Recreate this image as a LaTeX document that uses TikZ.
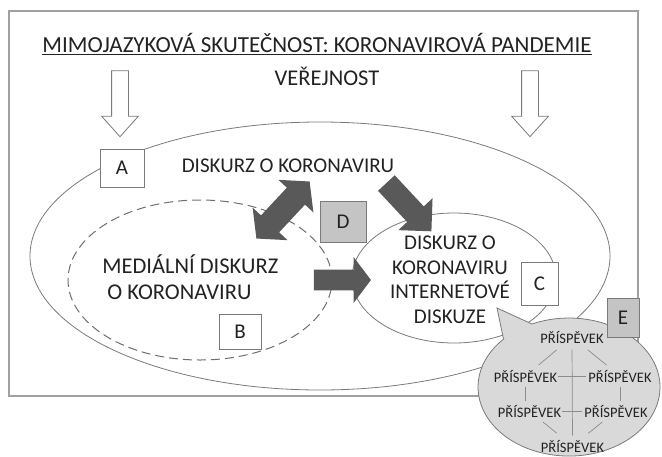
\documentclass[tikz,border=0pt]{standalone}
\usepackage{fontspec}
\setmainfont{Carlito}
\usetikzlibrary{positioning, shapes.geometric, shapes.arrows}

\definecolor{ink}{HTML}{222222}
\definecolor{rim}{HTML}{7A7A7A}
\definecolor{frame}{HTML}{A0A0A0}
\definecolor{heavy}{HTML}{595959}
\definecolor{shade}{HTML}{C4C4C4}
\definecolor{bubble}{HTML}{D9D9D9}
\definecolor{thread}{HTML}{8C8C8C}

\begin{document}
\begin{tikzpicture}[x=1pt, y=-1pt, line width=0.8pt,
	every node/.style={text=ink, inner sep=0pt, font=\fontsize{21}{24.7}\selectfont},
	big/.style={font=\fontsize{22.5}{26}\selectfont},
	field/.style={ellipse, draw=rim},
	tag/.style={draw=rim, fill=white},
	greytag/.style={tag, fill=shade},
	hollow/.style={single arrow, draw=rim, fill=white, minimum height=66pt, inner ysep=8pt,
		single arrow head extend=10pt, single arrow tip angle=84, rotate=-90},
	fat/.style={single arrow, fill=heavy},
	post/.style={anchor=base, font=\fontsize{14.5}{16}\selectfont},
	link/.style={draw=thread, line width=0.7pt}]
			\useasboundingbox (0,0) rectangle (662,456);
			\draw[frame, line width=1.4pt] (9,11) rectangle (638,396);

			\node[anchor=base, font=\fontsize{23}{26}\selectfont] (title) at (317,52) {MIMOJAZYKOVÁ SKUTEČNOST: KORONAVIROVÁ PANDEMIE};
			\draw[ink, line width=1pt] ([yshift=-2.5pt]title.base west) -- ([yshift=-2.5pt]title.base east);
			\node[big, anchor=base] (public) at (327,85) {VEŘEJNOST};
			\node[hollow] (left) at (120,99) {};
			\node[hollow] (right) at (530,99) {};

			\node[field, minimum width=580pt, minimum height=268pt] (all) at (320,256) {};
			\node[field, draw=rim!90!black, line width=1pt, dash pattern=on 9pt off 5pt, minimum width=264pt, minimum height=160pt] (media) at (200,280) {};
			\node[field, minimum width=204pt, minimum height=130pt] (web) at (454,278) {};

			\node[anchor=base] (talk) at (288,172) {DISKURZ O KORONAVIRU};
			\node[big, anchor=south west, align=left] (mediatext) at (102,300) {MEDIÁLNÍ DISKURZ\\\hspace*{5pt}O KORONAVIRU};
			\node[anchor=south, align=center] (webtext) at (450,324) {DISKURZ O\\KORONAVIRU\\INTERNETOVÉ\\DISKUZE};

			\node[double arrow, fill=heavy, minimum height=78pt, inner ysep=12pt,
				double arrow head extend=11.5pt, double arrow tip angle=100, rotate=47] (swap) at (283,210) {};
			\node[fat, minimum height=66pt, inner ysep=11pt, single arrow head extend=12pt,
				single arrow tip angle=90, rotate=-47] (toweb) at (405,203) {};
			\node[fat, minimum height=57pt, inner ysep=10pt, single arrow head extend=12.5pt,
				single arrow tip angle=106] (feed) at (338.5,280) {};

			\node[tag, minimum width=44pt, minimum height=38pt] (a) at (122,168) {A};
			\node[tag, minimum width=42pt, minimum height=35pt] (b) at (240,332) {B};
			\node[tag, minimum width=37pt, minimum height=43pt] (c) at (539.5,283.5) {C};
			\node[greytag, minimum width=46pt, minimum height=41pt] (d) at (343,222) {D};

			\path[draw=rim, fill=bubble] (503.5,339.1) -- (497,308) -- (532,324)
				arc[start angle=246, end angle=584, x radius=91, y radius=69] -- cycle;
			\node[greytag, minimum width=32pt, minimum height=39pt] (e) at (623,317.5) {E};

			\node[post] (p1) at (572,343) {PŘÍSPĚVEK};
			\node[post] (p2) at (525.5,382) {PŘÍSPĚVEK};
			\node[post] (p3) at (620,382) {PŘÍSPĚVEK};
			\node[post] (p4) at (529.5,417) {PŘÍSPĚVEK};
			\node[post] (p5) at (616,417) {PŘÍSPĚVEK};
			\node[post] (p6) at (572.5,452) {PŘÍSPĚVEK};

			\draw[link, shorten <=6pt, shorten >=4pt] (p1.south) -- (p6.north);
			\draw[link, shorten <=1pt, shorten >=2pt] (p2) -- (p3);
			\draw[link, shorten <=1pt, shorten >=2pt] (p4) -- (p5);
			\draw[link, shorten <=10pt, shorten >=7pt] (p1) -- (p2);
			\draw[link, shorten <=10pt, shorten >=7pt] (p1) -- (p3);
			\draw[link, shorten <=7pt, shorten >=10pt] (p4) -- (p6);
			\draw[link, shorten <=7pt, shorten >=10pt] (p5) -- (p6);
			\draw[link, shorten <=4pt, shorten >=4pt] (p2.south) -- (p2.south |- p4.north);
			\draw[link, shorten <=4pt, shorten >=4pt] (p3.south) -- (p3.south |- p5.north);
		\end{tikzpicture}
\end{document}
